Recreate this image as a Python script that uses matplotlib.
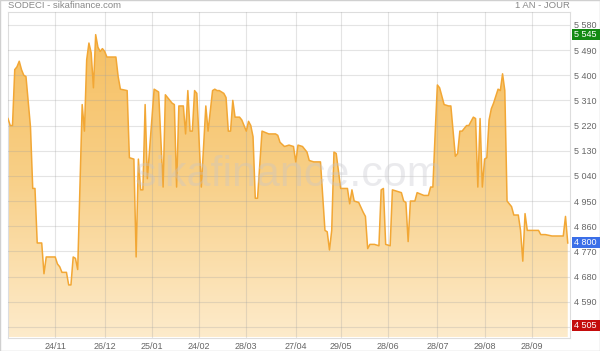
import numpy as np
import matplotlib.pyplot as plt
from matplotlib.colors import LinearSegmentedColormap
from matplotlib.patches import Rectangle

plt.rcParams['font.family'] = ['Liberation Sans', 'DejaVu Sans']

# %%
# SODECI daily close, one year (trading-day index)
days = [0, 1, 2, 3, 4, 5, 6, 7, 8, 10, 11, 12, 13, 15, 16, 17, 21, 22, 23, 24,
        26, 27, 28, 29, 30, 31, 33, 34, 35, 36, 37, 38, 39, 40, 41, 42, 43, 44,
        48, 49, 50, 53, 54, 56, 57, 58, 59, 60, 61, 62, 65, 67, 69, 70, 71, 73,
        74, 75, 76, 78, 79, 80, 81, 82, 83, 84, 86, 88, 89, 91, 92, 93, 94, 96,
        97, 98, 99, 100, 101, 103, 104, 106, 107, 108, 109, 110, 111, 113, 116,
        119, 120, 121, 123, 125, 127, 128, 129, 131, 133, 134, 136, 139, 141,
        142, 143, 144, 145, 146, 148, 151, 152, 153, 154, 156, 158, 159, 160,
        161, 163, 165, 166, 167, 168, 170, 171, 173, 175, 176, 177, 178, 179,
        181, 182, 185, 187, 188, 189, 190, 191, 192, 194, 196, 197, 199, 200,
        201, 202, 204, 205, 207, 208, 209, 210, 211, 212, 213, 214, 215, 216,
        218, 219, 220, 221, 222, 224, 225, 227, 228, 229, 230, 231, 234, 236,
        237, 239, 242, 247, 248, 249]
prices = [5245, 5220, 5220, 5420, 5430, 5450, 5420, 5400, 5395, 5215, 4995,
          4995, 4800, 4800, 4690, 4750, 4750, 4725, 4715, 4695, 4695, 4650,
          4650, 4750, 4745, 4705, 5295, 5200, 5455, 5515, 5480, 5355, 5545,
          5500, 5485, 5495, 5485, 5465, 5465, 5395, 5350, 5345, 5105, 5100,
          4750, 5100, 4990, 4990, 5295, 5030, 5350, 5340, 5000, 5330, 5320,
          5300, 5295, 5000, 5290, 5290, 5190, 5345, 5200, 5200, 5345, 5335,
          5000, 5290, 5200, 5345, 5350, 5345, 5345, 5335, 5320, 5200, 5200,
          5310, 5250, 5250, 5240, 5200, 5235, 5220, 5180, 4960, 4960, 5200,
          5190, 5190, 5185, 5160, 5145, 5150, 5145, 5090, 5150, 5145, 5125,
          5095, 5090, 5090, 4845, 4840, 4775, 4845, 5125, 5120, 4995, 4995,
          4940, 4990, 4950, 4945, 4910, 4895, 4780, 4795, 4795, 4790, 4990,
          4995, 4795, 4790, 4990, 4985, 4980, 4950, 4945, 4805, 4950, 4950,
          4980, 4970, 4970, 5000, 5000, 5190, 5365, 5355, 5295, 5290, 5290,
          5110, 5120, 5200, 5200, 5220, 5220, 5250, 5245, 5000, 5245, 5000,
          5100, 5105, 5240, 5280, 5300, 5350, 5345, 5405, 5345, 4950, 4930,
          4900, 4900, 4845, 4735, 4905, 4845, 4845, 4845, 4830, 4830, 4825,
          4825, 4895, 4800]

tick_days = [21, 43, 64, 85, 106, 128, 148, 169, 191, 212, 233]
tick_labels = ['24/11', '26/12', '25/01', '24/02', '28/03', '27/04',
               '29/05', '28/06', '28/07', '29/08', '28/09']
y_ticks = list(range(4500, 5581, 90))

last_price = 4800
high_price = 5545
low_price = 4505

# %%
ymin, ymax = 4462, 5626
xmax = 250

fig = plt.figure(figsize=(6.0, 3.51), dpi=100)
ax = fig.add_axes([8 / 600, 1 - 337.5 / 351, 562 / 600, 325.5 / 351])

fill = ax.fill_between(days, prices, ymin, color='none', lw=0)
grad = np.linspace(0, 1, 256).reshape(-1, 1)
cmap = LinearSegmentedColormap.from_list('sika', ['#fdebcb', '#f8cf86', '#f6bd5c'])
im = ax.imshow(grad, cmap=cmap, origin='lower', aspect='auto',
               extent=[0, xmax, ymin, ymax], zorder=1)
im.set_clip_path(fill.get_paths()[0], transform=ax.transData)
ax.plot(days, prices, color='#f2a735', lw=1.1, zorder=3)

ax.set_xlim(0, xmax)
ax.set_ylim(ymin, ymax)
ax.set_xticks(tick_days)
ax.set_xticklabels(tick_labels)
ax.set_yticks(y_ticks)
# the 4 500 label sits under the low-price box, so it is left blank
ax.set_yticklabels(['' if v == 4500 else f"{v:,}".replace(',', ' ')
                    for v in y_ticks])
ax.yaxis.tick_right()
ax.tick_params(length=0, labelsize=6.5, colors='#666666')
ax.tick_params(axis='x', pad=3)
ax.tick_params(axis='y', pad=3)
ax.set_axisbelow(False)
ax.grid(True, color='#a0a0a0', alpha=0.28, lw=0.8, zorder=2)
for s in ax.spines.values():
    s.set_color('#dddddd')
    s.set_linewidth(0.8)

ax.text(0.5, 0.5, 'sikafinance.com', transform=ax.transAxes, ha='center',
        va='center', fontsize=31, color='#c5c5cc', alpha=0.35, zorder=4)

fig.text(8 / 600, 1 - 6 / 351, 'SODECI - sikafinance.com', ha='left',
         va='center', fontsize=6.8, color='#888888')
fig.text(570 / 600, 1 - 6 / 351, '1 AN - JOUR', ha='right', va='center',
         fontsize=6.8, color='#888888')

# price badges on the right edge
for val, col in [(high_price, '#138a13'), (last_price, '#3b6fe8'),
                 (low_price, '#c40c0c')]:
    yf = ax.transData.transform((0, val))[1] / fig.bbox.height
    fig.add_artist(Rectangle((572 / 600, yf - 5.5 / 351), 28 / 600, 11 / 351,
                             transform=fig.transFigure, fc=col, ec='none',
                             zorder=9))
    fig.text(574 / 600, yf, f"{val:,}".replace(',', ' '), ha='left',
             va='center', fontsize=6.5, color='white', zorder=10)

fig.add_artist(Rectangle((0, 0), 1, 1, transform=fig.transFigure,
                         fill=False, ec='#d0d0d0', lw=1))

fig.savefig('out.png', dpi=100)
